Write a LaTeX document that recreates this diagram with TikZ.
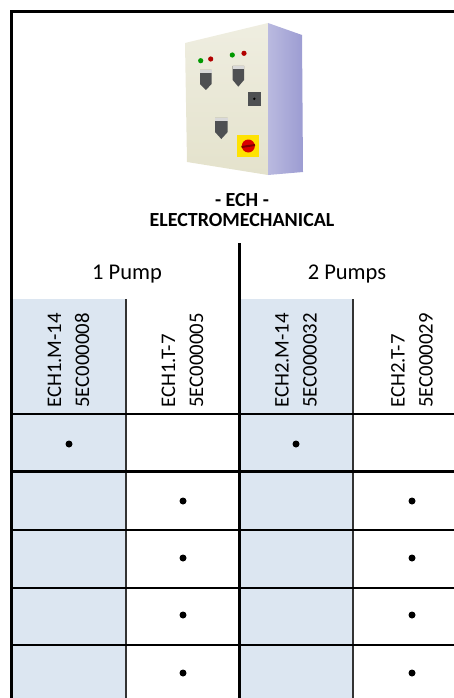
\documentclass[tikz,border=0pt]{standalone}
\usepackage{fontspec}
\setmainfont{Carlito}
\definecolor{cellblue}{HTML}{DCE6F1}
\definecolor{boxfront}{HTML}{E4E2CC}
\definecolor{boxside}{HTML}{9C9CD2}
\definecolor{metergray}{HTML}{4E5052}
\tikzset{
	thickline/.style={line width=3pt},
	thinline/.style={line width=1.2pt},
	bullet/.style={circle,fill=black,inner sep=0pt,minimum size=7pt},
	codetext/.style={rotate=90,anchor=west,align=left,inner sep=0pt,
		font=\fontsize{20.75}{28}\selectfont},
	pumptext/.style={anchor=base,inner sep=0pt,font=\fontsize{22.5}{26}\selectfont},
	titletext/.style={anchor=base,inner sep=0pt,font=\bfseries\fontsize{20}{24}\selectfont}
}
\begin{document}
\begin{tikzpicture}[x=1pt,y=-1pt]
	% frame of the picture
	\useasboundingbox (0,0) rectangle (454,698);
	\clip (0,0) rectangle (454,698);
	% shaded columns
	\fill[cellblue] (13,299) rectangle (126,700);
	\fill[cellblue] (239,299) rectangle (353,700);
	% the cabinet
	\shade[top color=boxfront!60!white,bottom color=boxfront] (185,43) -- (268,23) -- (268,175) -- (187,162) -- cycle;
	\shade[left color=boxside!70!white,right color=boxside] (268,23) -- (302,35) -- (303,172) -- (268,175) -- cycle;
	% lamps
	\fill[green!60!black] (200.7,60.7) circle(2.6);
	\fill[red!70!black] (210.7,59) circle(2.6);
	\fill[green!60!black] (232.3,55) circle(2.6);
	\fill[red!70!black] (244,53.3) circle(2.6);
	% meters
	\fill[metergray] (200,70) -- (211.7,70) -- (211.7,84) -- (205.8,90) -- (200,84) -- cycle;
	\fill[gray!30] (200,70) rectangle (211.7,73);
	\fill[metergray] (232.7,66) -- (244,66) -- (244,80) -- (238.3,86.7) -- (232.7,80) -- cycle;
	\fill[gray!30] (232.7,66) rectangle (244,69);
	\fill[metergray] (215,118) -- (227.7,118) -- (227.7,132) -- (221.3,139) -- (215,132) -- cycle;
	\fill[gray!30] (215,118) rectangle (227.7,121);
	% push button
	\fill[metergray] (247.7,91.7) rectangle (261,106);
	\fill[black] (254.3,98.8) circle(1.3);
	% main switch
	\fill[yellow!85!orange] (237.3,135) rectangle (259,157);
	\fill[red!85!black] (248.3,146) circle(6.5);
	\draw[line width=2pt,red!50!black] (241.5,147) -- (255,145);
	% titles
	\node[titletext] (ech) at (242,206) {- ECH -};
	\node[titletext] (electro) at (242,226) {ELECTROMECHANICAL};
	\node[pumptext] (onepump) at (127,279) {1 Pump};
	\node[pumptext] (twopump) at (347,279) {2 Pumps};
	% rotated codes
	\node[codetext] (ech1m) at (68.5,408) {ECH1.M-14\\5EC000008};
	\node[codetext] (ech1t) at (182.5,408) {ECH1.T-7\\5EC000005};
	\node[codetext] (ech2m) at (296,408) {ECH2.M-14\\5EC000032};
	\node[codetext] (ech2t) at (412,408) {ECH2.T-7\\5EC000029};
	% the grid
	\draw[thinline,black!80] (126,299) -- (126,700);
	\draw[thinline,black!80] (353,299) -- (353,700);
	\draw[thinline] (11.5,414) -- (475,414);
	\draw[thinline] (11.5,530) -- (475,530);
	\draw[thinline] (11.5,588) -- (475,588);
	\draw[thinline] (11.5,645) -- (475,645);
	\draw[thickline] (11.5,471) -- (475,471);
	\draw[thickline] (239,243) -- (239,700);
	% outer frame
	\draw[thickline] (11.5,700) -- (11.5,11.5) -- (475,11.5);
	% marks
	\node[bullet] (m11) at (69,444) {};
	\node[bullet] (m13) at (296,444) {};
	\node[bullet] (m22) at (183,501) {};
	\node[bullet] (m24) at (412,501) {};
	\node[bullet] (m32) at (183,558) {};
	\node[bullet] (m34) at (412,558) {};
	\node[bullet] (m42) at (183,615) {};
	\node[bullet] (m44) at (412,615) {};
	\node[bullet] (m52) at (183,673) {};
	\node[bullet] (m54) at (412,673) {};
\end{tikzpicture}
\end{document}
